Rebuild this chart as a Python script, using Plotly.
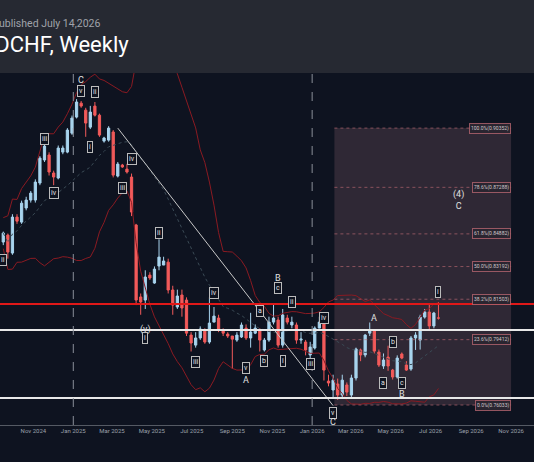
import pandas as pd
import plotly.graph_objects as go

opens = [.8446,.8482,.8389,.8575,.8549,.8622,.8663,.8663,.8751,.8870,.8896,.8803,.8777,.8911,.8911,.9009,.9092,.9164,.9128,.9040,
         .9149,.9102,.8968,.8973,.9015,.8787,.8844,.8823,.8782,.8534,.8162,.8146,.8275,.8234,.8322,.8327,.8342,.8198,.8110,.8172,
         .8146,.7965,.7913,.7950,.7991,.7929,.8032,.8053,.7991,.7970,.7960,.7939,.7955,.8001,.7950,.7975,.7991,.7888,.7939,.8032,
         .8043,.7913,.8053,.8017,.8017,.7939,.7929,.7862,.7898,.8001,.8027,.7727,.7681,.7712,.7655,.7707,.7655,.7743,.7888,.7862,
         .7975,.7986,.7877,.7805,.7851,.7784,.7748,.7867,.7810,.7789,.7950,.7939,.8058,.8084,.8012,.8053]
closes = [.8492,.8394,.8575,.8554,.8647,.8663,.8699,.8756,.8880,.8942,.8808,.8782,.8932,.8932,.9025,.9087,.9170,.9149,.9061,.9118,
          .9102,.8999,.8984,.9035,.8792,.8849,.8834,.8808,.8601,.8146,.8136,.8265,.8260,.8306,.8368,.8348,.8198,.8120,.8167,.8105,
          .7975,.7924,.7950,.7996,.7929,.8027,.8063,.7991,.7975,.7960,.7944,.7965,.8017,.7950,.7981,.8001,.7939,.7939,.8032,.8053,
          .7913,.8069,.8032,.8032,.7939,.7944,.7888,.7903,.8001,.8032,.7784,.7717,.7732,.7655,.7732,.7670,.7743,.7893,.7862,.7965,
          .7986,.7882,.7810,.7836,.7805,.7748,.7846,.7846,.7784,.7950,.7965,.8058,.8084,.8012,.8079,.8053]
highs = [.8500,.8490,.8590,.8590,.8660,.8680,.8710,.8770,.8890,.8960,.8910,.8815,.8945,.8945,.9035,.9100,.9185,.9175,.9140,.9150,
         .9170,.9110,.8990,.9045,.9025,.8860,.8850,.8850,.8800,.8540,.8180,.8300,.8290,.8320,.8460,.8370,.8360,.8220,.8200,.8200,
         .8160,.7980,.7980,.8010,.8000,.8160,.8110,.8070,.8000,.7980,.7960,.7980,.8030,.8020,.8080,.8020,.8000,.7950,.8060,.8130,
         .8060,.8100,.8070,.8060,.8030,.7980,.7940,.7930,.8010,.8060,.8040,.7760,.7760,.7740,.7760,.7720,.7760,.7900,.7895,.7970,
         .8030,.7990,.7890,.7870,.7910,.7790,.7860,.7875,.7830,.7960,.7980,.8070,.8100,.8130,.8085,.8136]
lows = [.8430,.8360,.8380,.8540,.8540,.8610,.8650,.8650,.8740,.8860,.8790,.8740,.8770,.8900,.8905,.9000,.9085,.9140,.8990,.9030,
        .9095,.8990,.8960,.8965,.8780,.8780,.8830,.8800,.8580,.8120,.8070,.8100,.8250,.8230,.8300,.8330,.8180,.8070,.8100,.8060,
        .7960,.7880,.7900,.7940,.7920,.7920,.8050,.7980,.7960,.7950,.7790,.7930,.7950,.7940,.7900,.7970,.7880,.7880,.7930,.8020,
        .7900,.7900,.8020,.8000,.7920,.7920,.7860,.7830,.7890,.8020,.7730,.7700,.7640,.7630,.7640,.7650,.7640,.7730,.7830,.7850,
        .7960,.7870,.7800,.7790,.7780,.7735,.7740,.7840,.7780,.7780,.7888,.7890,.8050,.7990,.8000,.8045]

dates = pd.date_range("2024-09-16", periods=len(opens), freq="7D")

fib_pct = ["0.0%", "23.6%", "38.2%", "50.0%", "61.8%", "78.6%", "100.0%"]
fib_val = [0.76033, 0.79412, 0.81503, 0.83192, 0.84882, 0.87288, 0.90352]
fib_start, fib_end = "2026-02-04", "2026-11-01"

red_level = 0.8125
white_levels = [0.7991, 0.7640]
trend_x = ["2025-03-10", "2026-02-02"]
trend_y = [0.9035, 0.7600]
vlines = ["2025-01-01", "2026-01-01"]

# wave labels: (candle index, price, text, circled)
labels = [
    (1, .8353, "ii", True), (10, .8979, "iii", True), (12, .8699, "iv", True),
    (18, .9284, "C", False), (18, .9227, "v", True), (21, .9222, "ii", True), (20, .8937, "i", True),
    (29, .8875, "iv", True), (27, .8725, "iii", True), (35, .8492, "ii", True),
    (32, .7996, "(v)", False), (32, .7950, "i", True), (47, .8183, "iv", True), (43, .7826, "iii", True),
    (54, .7795, "v", True), (54, .7733, "A", False), (57, .8090, "a", True), (58, .7831, "b", True),
    (61, .8260, "B", False), (61, .8208, "c", True), (64, .8136, "ii", True), (62, .7831, "i", True),
    (68, .7816, "iii", True), (71, .8053, "iv", True), (73, .7562, "v", True), (73, .7516, "C", False),
    (82, .8053, "A", False), (86, .7929, "b", True), (84, .7717, "a", True), (88, .7717, "c", True),
    (88, .7660, "B", False), (96, .8188, "i", True),
]

fig = go.Figure()
fig.add_shape(type="rect", xref="x", yref="y", x0=fib_start, x1=fib_end, y0=fib_val[0], y1=fib_val[-1],
              fillcolor="rgba(110,80,95,0.35)", line=dict(width=0), layer="below")
for p, v in zip(fib_pct, fib_val):
    fig.add_shape(type="line", xref="x", yref="y", x0=fib_start, x1=fib_end, y0=v, y1=v,
                  line=dict(color="rgba(200,110,120,0.6)", width=1, dash="dot"))
    fig.add_annotation(x=fib_end, y=v, xref="x", yref="y", text=f"{p}({v:.5f})", showarrow=False,
                       xanchor="right", font=dict(size=5, color="#cfc8cc"), bgcolor="#2a2530",
                       bordercolor="rgba(200,110,120,0.7)", borderwidth=1, borderpad=1)

closes_s = pd.Series(closes)
mid = closes_s.rolling(20, min_periods=1).mean()
sd = closes_s.rolling(20, min_periods=2).std().fillna(0.004)
fig.add_trace(go.Scatter(x=dates, y=mid + 2 * sd, mode="lines", line=dict(color="#8a1a22", width=1), hoverinfo="skip"))
fig.add_trace(go.Scatter(x=dates, y=mid - 2 * sd, mode="lines", line=dict(color="#8a1a22", width=1), hoverinfo="skip"))
fig.add_trace(go.Scatter(x=dates, y=mid, mode="lines", line=dict(color="#3a4a55", width=1, dash="dot"), hoverinfo="skip"))

fig.add_trace(go.Scatter(x=trend_x, y=trend_y, mode="lines", line=dict(color="#c8c8c8", width=1), hoverinfo="skip"))

fig.add_trace(go.Candlestick(x=dates, open=opens, high=highs, low=lows, close=closes,
                             increasing=dict(line=dict(color="#a8d4ee", width=1), fillcolor="#a8d4ee"),
                             decreasing=dict(line=dict(color="#f25a5a", width=1), fillcolor="#f25a5a"),
                             whiskerwidth=0))

fig.add_hline(y=red_level, line=dict(color="#e01818", width=2))
for w in white_levels:
    fig.add_hline(y=w, line=dict(color="#e8e8e8", width=2))
for v in vlines:
    fig.add_vline(x=v, line=dict(color="#8a8f99", width=1, dash="dash"))

for i, p, t, circ in labels:
    fig.add_annotation(x=dates[i - 1], y=p, text=t, showarrow=False,
                       font=dict(size=7 if circ else 9, color="#e0e0e0"),
                       bgcolor="#0e1320" if circ else None,
                       bordercolor="#bbbbbb" if circ else None, borderwidth=1 if circ else 0,
                       borderpad=1)
fig.add_annotation(x="2026-08-12", y=0.8663, text="(4)<br>C", showarrow=False,
                   font=dict(size=9, color="#e0e0e0"))

fig.add_shape(type="rect", xref="paper", yref="paper", x0=-0.01, x1=1.01, y0=1.0, y1=1.3,
              fillcolor="#262932", line=dict(width=0))
fig.add_annotation(xref="paper", yref="paper", x=102 / 534, y=1.142, yanchor="middle",
                   text="Chart published July 14,2026",
                   showarrow=False, xanchor="right", font=dict(size=10.5, color="#a0a3aa", family="Roboto"))
fig.add_annotation(xref="paper", yref="paper", x=131 / 534, y=1.082, yanchor="middle", text="USDCHF, Weekly",
                   showarrow=False, xanchor="right", font=dict(size=22, color="#ffffff", family="Roboto"))

fig.update_layout(
    width=534, height=462, margin=dict(l=0, r=0, t=73, b=37),
    paper_bgcolor="#0e1320", plot_bgcolor="#0e1320", showlegend=False,
    font=dict(family="Roboto", color="#9aa0aa"),
    xaxis=dict(range=["2024-09-11", "2026-12-06"], rangeslider=dict(visible=False), showgrid=False,
               tickformat="%b %Y", dtick="M2", tick0="2024-11-01", tickfont=dict(size=6, color="#9aa0aa"),
               showline=True, linecolor="#555a64", zeroline=False, ticks=""),
    yaxis=dict(range=[0.750, 0.932], showgrid=False, showticklabels=False, zeroline=False),
)
fig.write_html("out.html", config={"displayModeBar": False},
               post_script="document.body.style.margin='0';document.body.style.background='#0e1320';")
